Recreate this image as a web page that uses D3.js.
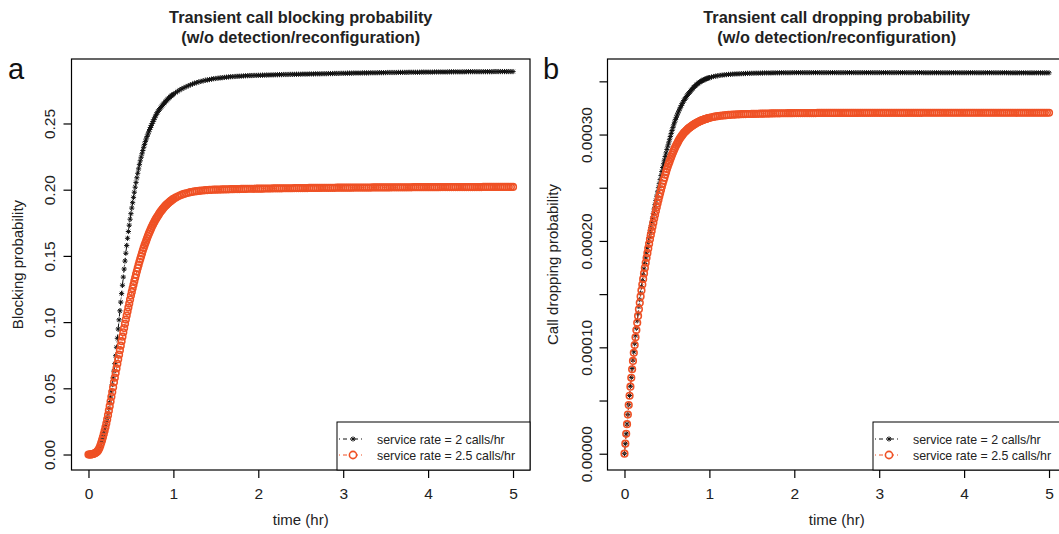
<!DOCTYPE html>
<html>
<head>
<meta charset="utf-8">
<script src="https://cdn.jsdelivr.net/npm/d3@7"></script>
<style>
body{margin:0;background:#fff;}
svg{display:block;font-family:"Liberation Sans",Arial,sans-serif;}
</style>
</head>
<body>
<svg width="1059" height="534"></svg>
<script>
"use strict";

// time grid (hr): 0.01 steps up to 1 hr, then 0.025 steps
var timeFine=[0.00,0.01,0.02,0.03,0.04,0.05,0.06,0.07,0.08,0.09,
	0.10,0.11,0.12,0.13,0.14,0.15,0.16,0.17,0.18,0.19,
	0.20,0.21,0.22,0.23,0.24,0.25,0.26,0.27,0.28,0.29,
	0.30,0.31,0.32,0.33,0.34,0.35,0.36,0.37,0.38,0.39,
	0.40,0.41,0.42,0.43,0.44,0.45,0.46,0.47,0.48,0.49,
	0.50,0.51,0.52,0.53,0.54,0.55,0.56,0.57,0.58,0.59,
	0.60,0.61,0.62,0.63,0.64,0.65,0.66,0.67,0.68,0.69,
	0.70,0.71,0.72,0.73,0.74,0.75,0.76,0.77,0.78,0.79,
	0.80,0.81,0.82,0.83,0.84,0.85,0.86,0.87,0.88,0.89,
	0.90,0.91,0.92,0.93,0.94,0.95,0.96,0.97,0.98,0.99,1.00];
var timeCoarse=[1.025,1.05,1.075,1.1,1.125,1.15,1.175,1.2,1.225,1.25,1.275,1.3,1.325,1.35,1.375,1.4,1.425,1.45,1.475,1.5,
	1.525,1.55,1.575,1.6,1.625,1.65,1.675,1.7,1.725,1.75,1.775,1.8,1.825,1.85,1.875,1.9,1.925,1.95,1.975,2.0,
	2.025,2.05,2.075,2.1,2.125,2.15,2.175,2.2,2.225,2.25,2.275,2.3,2.325,2.35,2.375,2.4,2.425,2.45,2.475,2.5,
	2.525,2.55,2.575,2.6,2.625,2.65,2.675,2.7,2.725,2.75,2.775,2.8,2.825,2.85,2.875,2.9,2.925,2.95,2.975,3.0,
	3.025,3.05,3.075,3.1,3.125,3.15,3.175,3.2,3.225,3.25,3.275,3.3,3.325,3.35,3.375,3.4,3.425,3.45,3.475,3.5,
	3.525,3.55,3.575,3.6,3.625,3.65,3.675,3.7,3.725,3.75,3.775,3.8,3.825,3.85,3.875,3.9,3.925,3.95,3.975,4.0,
	4.025,4.05,4.075,4.1,4.125,4.15,4.175,4.2,4.225,4.25,4.275,4.3,4.325,4.35,4.375,4.4,4.425,4.45,4.475,4.5,
	4.525,4.55,4.575,4.6,4.625,4.65,4.675,4.7,4.725,4.75,4.775,4.8,4.825,4.85,4.875,4.9,4.925,4.95,4.975,5.0];

// blocking probability, service rate 2 calls/hr
var blockRate2=[0,0,0,0.0001,0.0002,0.0003,0.0005,0.0008,0.0011,0.0015,
	0.0020,0.0027,0.0038,0.0052,0.0069,0.0090,0.0111,0.0133,0.0157,0.0183,
	0.0210,0.0240,0.0273,0.0309,0.0348,0.0390,0.0434,0.0480,0.0528,0.0578,
	0.0630,0.0686,0.0746,0.0810,0.0878,0.0948,0.1017,0.1085,0.1151,0.1215,
	0.1278,0.1340,0.1401,0.1461,0.1520,0.1578,0.1633,0.1684,0.1732,0.1777,
	0.1819,0.1861,0.1902,0.1942,0.1981,0.2019,0.2055,0.2090,0.2124,0.2157,
	0.2189,0.2218,0.2245,0.2271,0.2296,0.2320,0.2342,0.2363,0.2383,0.2402,
	0.2420,0.2437,0.2454,0.2470,0.2485,0.2500,0.2515,0.2529,0.2543,0.2557,
	0.2570,0.2581,0.2592,0.2602,0.2611,0.2620,0.2628,0.2636,0.2644,0.2652,
	0.2660,0.2667,0.2674,0.2681,0.2688,0.2694,0.2700,0.2706,0.2711,0.2716,0.2721,
	0.2732,0.2743,0.2753,0.2762,0.2770,0.2778,0.2785,0.2792,0.2798,0.2804,0.2809,0.2814,0.2818,0.2822,0.2826,0.2829,0.2832,0.2835,0.2838,0.2840,
	0.2842,0.2844,0.2846,0.2848,0.2850,0.2851,0.2853,0.2854,0.2855,0.2856,0.2857,0.2858,0.2859,0.2860,0.2861,0.2862,0.2862,0.2863,0.2863,0.2864,
	0.2864,0.2865,0.2865,0.2866,0.2866,0.2867,0.2867,0.2868,0.2868,0.2869,0.2869,0.2870,0.2870,0.2870,0.2871,0.2871,0.2871,0.2872,0.2872,0.2872,
	0.2873,0.2873,0.2873,0.2874,0.2874,0.2874,0.2875,0.2875,0.2875,0.2876,0.2876,0.2876,0.2877,0.2877,0.2877,0.2878,0.2878,0.2878,0.2879,0.2879,
	0.2879,0.2880,0.2880,0.2880,0.2881,0.2881,0.2881,0.2881,0.2882,0.2882,0.2882,0.2882,0.2883,0.2883,0.2883,0.2883,0.2884,0.2884,0.2884,0.2884,
	0.2885,0.2885,0.2885,0.2885,0.2885,0.2886,0.2886,0.2886,0.2886,0.2886,0.2887,0.2887,0.2887,0.2887,0.2887,0.2887,0.2888,0.2888,0.2888,0.2888,
	0.2888,0.2888,0.2889,0.2889,0.2889,0.2889,0.2889,0.2889,0.2889,0.2890,0.2890,0.2890,0.2890,0.2890,0.2890,0.2890,0.2890,0.2891,0.2891,0.2891,
	0.2891,0.2891,0.2891,0.2891,0.2891,0.2891,0.2891,0.2891,0.2891,0.2891,0.2892,0.2892,0.2892,0.2892,0.2892,0.2892,0.2892,0.2892,0.2892,0.2892];

// blocking probability, service rate 2.5 calls/hr
var blockRate25=[0,0,0,0.0001,0.0002,0.0003,0.0005,0.0008,0.0011,0.0015,
	0.0020,0.0027,0.0037,0.0051,0.0068,0.0088,0.0108,0.0130,0.0154,0.0179,
	0.0205,0.0234,0.0265,0.0297,0.0331,0.0365,0.0400,0.0436,0.0472,0.0508,
	0.0545,0.0580,0.0615,0.0650,0.0685,0.0720,0.0754,0.0788,0.0822,0.0856,
	0.0890,0.0923,0.0955,0.0987,0.1019,0.1050,0.1080,0.1110,0.1140,0.1170,
	0.1200,0.1228,0.1255,0.1282,0.1309,0.1335,0.1360,0.1384,0.1408,0.1432,
	0.1455,0.1477,0.1498,0.1519,0.1540,0.1560,0.1579,0.1597,0.1615,0.1633,
	0.1650,0.1666,0.1681,0.1696,0.1711,0.1725,0.1738,0.1750,0.1762,0.1774,
	0.1785,0.1795,0.1805,0.1815,0.1825,0.1835,0.1843,0.1851,0.1859,0.1867,
	0.1875,0.1881,0.1887,0.1893,0.1899,0.1905,0.1910,0.1915,0.1920,0.1925,0.1930,
	0.1940,0.1948,0.1956,0.1962,0.1968,0.1973,0.1977,0.1981,0.1984,0.1987,0.1989,0.1991,0.1993,0.1994,0.1996,0.1997,0.1998,0.1999,0.2000,0.2000,
	0.2001,0.2001,0.2002,0.2002,0.2003,0.2003,0.2004,0.2004,0.2005,0.2005,0.2005,0.2006,0.2006,0.2006,0.2007,0.2007,0.2007,0.2007,0.2008,0.2008,
	0.2008,0.2008,0.2009,0.2009,0.2009,0.2009,0.2010,0.2010,0.2010,0.2010,0.2010,0.2011,0.2011,0.2011,0.2011,0.2011,0.2012,0.2012,0.2012,0.2012,
	0.2012,0.2012,0.2012,0.2013,0.2013,0.2013,0.2013,0.2013,0.2013,0.2014,0.2014,0.2014,0.2014,0.2014,0.2014,0.2014,0.2015,0.2015,0.2015,0.2015,
	0.2015,0.2015,0.2015,0.2015,0.2016,0.2016,0.2016,0.2016,0.2016,0.2016,0.2016,0.2016,0.2016,0.2017,0.2017,0.2017,0.2017,0.2017,0.2017,0.2017,
	0.2017,0.2017,0.2018,0.2018,0.2018,0.2018,0.2018,0.2018,0.2018,0.2018,0.2018,0.2018,0.2019,0.2019,0.2019,0.2019,0.2019,0.2019,0.2019,0.2019,
	0.2019,0.2019,0.2019,0.2019,0.2019,0.2020,0.2020,0.2020,0.2020,0.2020,0.2020,0.2020,0.2020,0.2020,0.2020,0.2020,0.2020,0.2020,0.2020,0.2020,
	0.2020,0.2020,0.2020,0.2020,0.2020,0.2021,0.2021,0.2021,0.2021,0.2021,0.2021,0.2021,0.2021,0.2021,0.2021,0.2021,0.2021,0.2021,0.2021,0.2021];

// dropping probability in units of 1e-5, service rate 2 calls/hr
var dropUnit=1e-5;
var dropRate2=[0,0.94,1.87,2.79,3.70,4.60,5.48,6.34,7.18,8.00,
	8.80,9.58,10.34,11.08,11.80,12.50,13.18,13.84,14.48,15.10,
	15.70,16.27,16.82,17.36,17.88,18.40,18.89,19.37,19.85,20.33,
	20.80,21.25,21.69,22.13,22.57,23.00,23.41,23.81,24.21,24.61,
	25.00,25.38,25.76,26.14,26.52,26.90,27.25,27.59,27.93,28.27,
	28.60,28.91,29.21,29.51,29.81,30.10,30.38,30.65,30.91,31.16,
	31.40,31.62,31.83,32.03,32.22,32.40,32.57,32.74,32.90,33.05,
	33.20,33.33,33.45,33.57,33.69,33.80,33.91,34.01,34.11,34.21,
	34.30,34.39,34.47,34.55,34.63,34.70,34.77,34.83,34.89,34.95,
	35.00,35.04,35.08,35.12,35.16,35.20,35.23,35.26,35.29,35.32,35.35,
	35.40,35.45,35.49,35.53,35.56,35.59,35.61,35.63,35.65,35.66,35.68,35.69,35.70,35.71,35.72,35.73,35.74,35.75,35.75,35.76,
	35.76,35.77,35.77,35.78,35.78,35.79,35.79,35.79,35.79,35.80,35.80,35.80,35.80,35.81,35.81,35.81,35.81,35.81,35.82,35.82,
	35.82,35.82,35.82,35.82,35.82,35.82,35.82,35.82,35.82,35.82,35.82,35.82,35.82,35.82,35.82,35.82,35.82,35.82,35.82,35.82,
	35.82,35.82,35.82,35.82,35.82,35.82,35.82,35.82,35.82,35.82,35.82,35.82,35.82,35.82,35.82,35.82,35.82,35.82,35.82,35.82,
	35.82,35.82,35.82,35.82,35.82,35.82,35.82,35.82,35.82,35.82,35.82,35.82,35.82,35.82,35.82,35.82,35.82,35.82,35.82,35.82,
	35.81,35.81,35.81,35.81,35.81,35.81,35.81,35.81,35.81,35.81,35.81,35.81,35.81,35.81,35.81,35.81,35.81,35.81,35.81,35.81,
	35.81,35.81,35.81,35.81,35.81,35.81,35.81,35.81,35.81,35.81,35.81,35.81,35.81,35.81,35.81,35.81,35.81,35.81,35.81,35.81,
	35.80,35.80,35.80,35.80,35.80,35.80,35.80,35.80,35.80,35.80,35.80,35.80,35.80,35.80,35.80,35.80,35.80,35.80,35.80,35.80];

// dropping probability in units of 1e-5, service rate 2.5 calls/hr
var dropRate25=[0,0.94,1.87,2.78,3.68,4.58,5.45,6.30,7.13,7.94,
	8.72,9.48,10.22,10.94,11.63,12.30,12.95,13.58,14.19,14.78,
	15.35,15.90,16.43,16.95,17.46,17.95,18.41,18.86,19.30,19.73,
	20.15,20.55,20.94,21.33,21.72,22.10,22.46,22.81,23.16,23.51,
	23.85,24.17,24.48,24.79,25.10,25.40,25.68,25.95,26.22,26.49,
	26.75,26.99,27.22,27.45,27.68,27.90,28.10,28.29,28.48,28.67,
	28.85,29.01,29.16,29.31,29.46,29.60,29.72,29.83,29.94,30.05,
	30.15,30.23,30.31,30.39,30.47,30.55,30.61,30.67,30.73,30.79,
	30.85,30.90,30.95,31.00,31.05,31.10,31.14,31.18,31.22,31.26,
	31.30,31.33,31.36,31.39,31.42,31.45,31.47,31.50,31.52,31.55,31.57,
	31.62,31.66,31.70,31.73,31.76,31.78,31.80,31.82,31.84,31.85,31.87,31.88,31.89,31.90,31.91,31.92,31.92,31.93,31.93,31.94,
	31.94,31.95,31.95,31.96,31.96,31.97,31.97,31.97,31.98,31.98,31.99,31.99,31.99,32.00,32.00,32.00,32.01,32.01,32.01,32.02,
	32.02,32.02,32.02,32.02,32.02,32.02,32.02,32.02,32.02,32.02,32.03,32.03,32.03,32.03,32.03,32.03,32.03,32.03,32.03,32.03,
	32.03,32.03,32.03,32.03,32.03,32.03,32.03,32.03,32.03,32.03,32.04,32.04,32.04,32.04,32.04,32.04,32.04,32.04,32.04,32.04,
	32.04,32.04,32.04,32.04,32.04,32.04,32.04,32.04,32.04,32.04,32.04,32.04,32.04,32.04,32.04,32.04,32.04,32.04,32.04,32.04,
	32.05,32.05,32.05,32.05,32.05,32.05,32.05,32.05,32.05,32.05,32.05,32.05,32.05,32.05,32.05,32.05,32.05,32.05,32.05,32.05,
	32.05,32.05,32.05,32.05,32.05,32.05,32.05,32.05,32.05,32.05,32.05,32.05,32.05,32.05,32.05,32.05,32.05,32.05,32.05,32.05,
	32.05,32.05,32.05,32.05,32.05,32.05,32.05,32.05,32.05,32.05,32.05,32.05,32.05,32.05,32.05,32.05,32.05,32.05,32.05,32.05];

var xTicks=[0,1,2,3,4,5];
var blockTicks=[0,0.05,0.10,0.15,0.20,0.25];
var dropTicks=[0,5,10,15,20,25,30,35];
var dropLabelled=[0,10,20,30];
var legendLabels=["service rate = 2 calls/hr","service rate = 2.5 calls/hr"];

var black="#111111";
var orange="#EF5125";

var time=timeFine.concat(timeCoarse);
var svg=d3.select("svg");

function starPath(r){
	var a=r*0.7071;
	return "M"+(-r)+",0H"+r+"M0,"+(-r)+"V"+r+"M"+(-a)+","+(-a)+"L"+a+","+a+"M"+(-a)+","+a+"L"+a+","+(-a);
}

function drawPanel(p){
	var g=svg.append("g");
	var top=59, bottom=470;
	var x=d3.scaleLinear().domain([-0.2,5.2]).range([p.left,p.right]);
	var y=d3.scaleLinear().domain(p.yDomain).range([bottom,top]);

	// series: rate 2 (stars) first, rate 2.5 (open circles) on top
	p.series.forEach(function(s){
		var pts=time.map(function(t,i){return [t,s.values[i]];});
		g.append("path")
			.attr("d",d3.line().x(function(d){return x(d[0]);}).y(function(d){return y(d[1]);})(pts))
			.attr("fill","none")
			.attr("stroke",s.color)
			.attr("stroke-width",1)
			.attr("stroke-dasharray","1,3,4,3");
		if(s.mark==="star"){
			g.append("g").selectAll("path").data(pts).enter().append("path")
				.attr("transform",function(d){return "translate("+x(d[0])+","+y(d[1])+")";})
				.attr("d",starPath(2.6))
				.attr("fill","none")
				.attr("stroke",s.color)
				.attr("stroke-width",1);
		} else {
			g.append("g").selectAll("circle").data(pts).enter().append("circle")
				.attr("cx",function(d){return x(d[0]);})
				.attr("cy",function(d){return y(d[1]);})
				.attr("r",3.3)
				.attr("fill","none")
				.attr("stroke",s.color)
				.attr("stroke-width",1.6);
		}
	});

	// box
	g.append("rect")
		.attr("x",p.left).attr("y",top)
		.attr("width",p.right-p.left).attr("height",bottom-top)
		.attr("fill","none").attr("stroke","#000").attr("stroke-width",1.2);

	// x axis
	g.append("g")
		.attr("transform","translate(0,"+bottom+")")
		.call(d3.axisBottom(x).tickValues(xTicks).tickSize(8).tickFormat(d3.format("d")))
		.call(function(a){
			a.select(".domain").remove();
			a.attr("font-size",15.5).attr("font-family",null);
			a.selectAll("line").attr("stroke-width",1.2);
			a.selectAll("text").attr("y",29).attr("dy",0).attr("fill","#222");
		});

	// y axis
	g.append("g")
		.attr("transform","translate("+p.left+",0)")
		.call(d3.axisLeft(y).tickValues(p.yTicks).tickSize(8).tickFormat(p.format))
		.call(function(a){
			a.select(".domain").remove();
			a.attr("font-size",15.5).attr("font-family",null);
			a.selectAll("line").attr("stroke-width",1.2);
			a.selectAll("text")
				.attr("transform","rotate(-90)")
				.attr("x",0).attr("y",-p.labelGap).attr("dy",0)
				.attr("text-anchor","middle").attr("fill","#222");
		});

	// titles and labels
	var cx=(p.left+p.right)/2;
	g.append("text").attr("x",cx).attr("y",23).attr("text-anchor","middle")
		.attr("font-size",16.3).attr("font-weight","bold").attr("fill","#222").text(p.title[0]);
	g.append("text").attr("x",cx).attr("y",43).attr("text-anchor","middle")
		.attr("font-size",16.3).attr("font-weight","bold").attr("fill","#222").text(p.title[1]);
	g.append("text").attr("x",cx).attr("y",525).attr("text-anchor","middle")
		.attr("font-size",15).attr("fill","#222").text("time (hr)");
	g.append("text")
		.attr("transform","translate("+p.yLabelX+","+((top+bottom)/2)+") rotate(-90)")
		.attr("text-anchor","middle").attr("font-size",15).attr("fill","#222").text(p.yLabel);
	g.append("text").attr("x",p.letterX).attr("y",79)
		.attr("font-size",29).attr("fill","#111").text(p.letter);

	// legend
	var lw=193, lx=p.right-lw, ly=422;
	var lg=g.append("g");
	lg.append("rect").attr("x",lx).attr("y",ly).attr("width",lw).attr("height",bottom-ly)
		.attr("fill","#fff").attr("stroke","#000").attr("stroke-width",1);
	p.series.forEach(function(s,i){
		var yy=ly+17+i*16;
		lg.append("line").attr("x1",lx+2).attr("x2",lx+26).attr("y1",yy).attr("y2",yy)
			.attr("stroke",s.color).attr("stroke-width",1).attr("stroke-dasharray","1,3,4,3");
		if(s.mark==="star"){
			lg.append("path").attr("transform","translate("+(lx+16)+","+yy+")")
				.attr("d",starPath(2.6)).attr("fill","none").attr("stroke",s.color).attr("stroke-width",1);
		} else {
			lg.append("circle").attr("cx",lx+16).attr("cy",yy).attr("r",3.6)
				.attr("fill","#fff").attr("stroke",s.color).attr("stroke-width",1.6);
		}
		lg.append("text").attr("x",lx+40).attr("y",yy+4.5)
			.attr("font-size",12.4).attr("fill","#222").text(legendLabels[i]);
	});
}

drawPanel({
	left:71.5, right:530,
	yDomain:[-0.0117,0.2987],
	yTicks:blockTicks,
	format:d3.format(".2f"),
	labelGap:17,
	yLabel:"Blocking probability", yLabelX:23,
	title:["Transient call blocking probability","(w/o detection/reconfiguration)"],
	letter:"a", letterX:8,
	series:[
		{values:blockRate2, color:black, mark:"star"},
		{values:blockRate25, color:orange, mark:"circle"}
	]
});

drawPanel({
	left:607.5, right:1066,
	yDomain:[-1.53,37.1],
	yTicks:dropTicks,
	format:function(d){return dropLabelled.indexOf(d)>=0 ? (d*dropUnit).toFixed(5) : "";},
	labelGap:16,
	yLabel:"Call dropping probability", yLabelX:558,
	title:["Transient call dropping probability","(w/o detection/reconfiguration)"],
	letter:"b", letterX:543,
	series:[
		{values:dropRate2, color:black, mark:"star"},
		{values:dropRate25, color:orange, mark:"circle"}
	]
});
</script>
</body>
</html>
